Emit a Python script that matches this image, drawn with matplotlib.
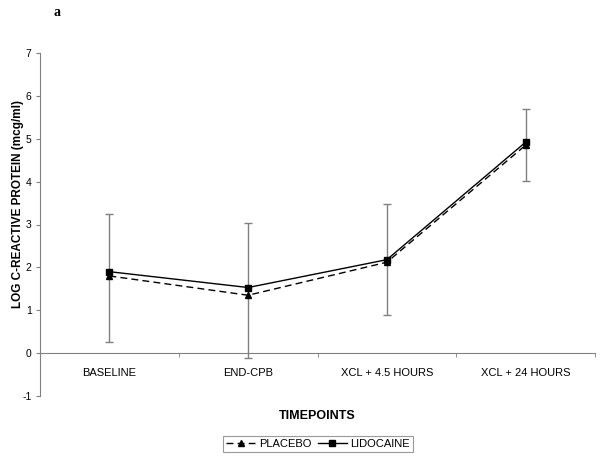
import matplotlib
matplotlib.use("Agg")
import matplotlib.pyplot as plt
import numpy as np

plt.rcParams['font.family'] = ['Liberation Sans', 'DejaVu Sans']

categories = ["BASELINE", "END-CPB", "XCL + 4.5 HOURS", "XCL + 24 HOURS"]
placebo = [1.80, 1.35, 2.12, 4.85]
lidocaine = [1.90, 1.53, 2.18, 4.92]
err_low = [0.26, -0.12, 0.90, 4.02]
err_high = [3.24, 3.03, 3.47, 5.69]

fig = plt.figure(figsize=(6, 4.57), dpi=100)
ax = fig.add_axes([40/600, 1-396/457, 555/600, 343/457])

x = np.arange(len(categories))
pl = np.array(placebo)
ax.errorbar(x, pl, yerr=[pl - np.array(err_low), np.array(err_high) - pl],
            fmt='none', ecolor='#808080', elinewidth=1.0, capsize=3, capthick=1.0, zorder=2)
ax.plot(x, placebo, color='black', linestyle=(0, (5, 3)), linewidth=1.0,
        marker='^', markersize=5, label='PLACEBO', zorder=3)
ax.plot(x, lidocaine, color='black', linestyle='-', linewidth=1.0,
        marker='s', markersize=4.5, label='LIDOCAINE', zorder=4)

ax.set_xlim(-0.5, 3.5)
ax.set_ylim(-1, 7)
ax.set_yticks(range(-1, 8))
ax.set_yticklabels([str(v) for v in range(-1, 8)], fontsize=7.5)

ax.spines['top'].set_visible(False)
ax.spines['right'].set_visible(False)
ax.spines['left'].set_color('#808080')
ax.spines['bottom'].set_color('#808080')
ax.spines['bottom'].set_position(('data', 0))

ax.set_xticks(x)
ax.set_xticklabels(categories, fontsize=8)
ax.tick_params(axis='x', which='major', length=0, pad=11)
ax.set_xticks(np.arange(-0.5, 4.0, 1.0), minor=True)
ax.tick_params(axis='x', which='minor', length=3, color='#808080', direction='out')
ax.tick_params(axis='y', length=3, color='#808080', pad=3)

fig.text(18/600, 1-204/457, 'LOG C-REACTIVE PROTEIN (mcg/ml)', rotation=90,
         ha='center', va='center', fontsize=8.5, fontweight='bold')
fig.text(317/600, 1-416/457, 'TIMEPOINTS', ha='center', va='center',
         fontsize=9, fontweight='bold')
fig.text(57/600, 1-12/457, 'a', ha='center', va='center', fontsize=10,
         fontweight='bold', family='Liberation Serif')

leg = fig.legend(loc='center', bbox_to_anchor=(318/600, 1-444/457), ncol=2,
                 fontsize=8, frameon=True, fancybox=False, edgecolor='#808080',
                 handlelength=2.6, columnspacing=0.6, handletextpad=0.3,
                 borderpad=0.3)
leg.get_frame().set_linewidth(0.8)

fig.savefig('out.png', dpi=100)
